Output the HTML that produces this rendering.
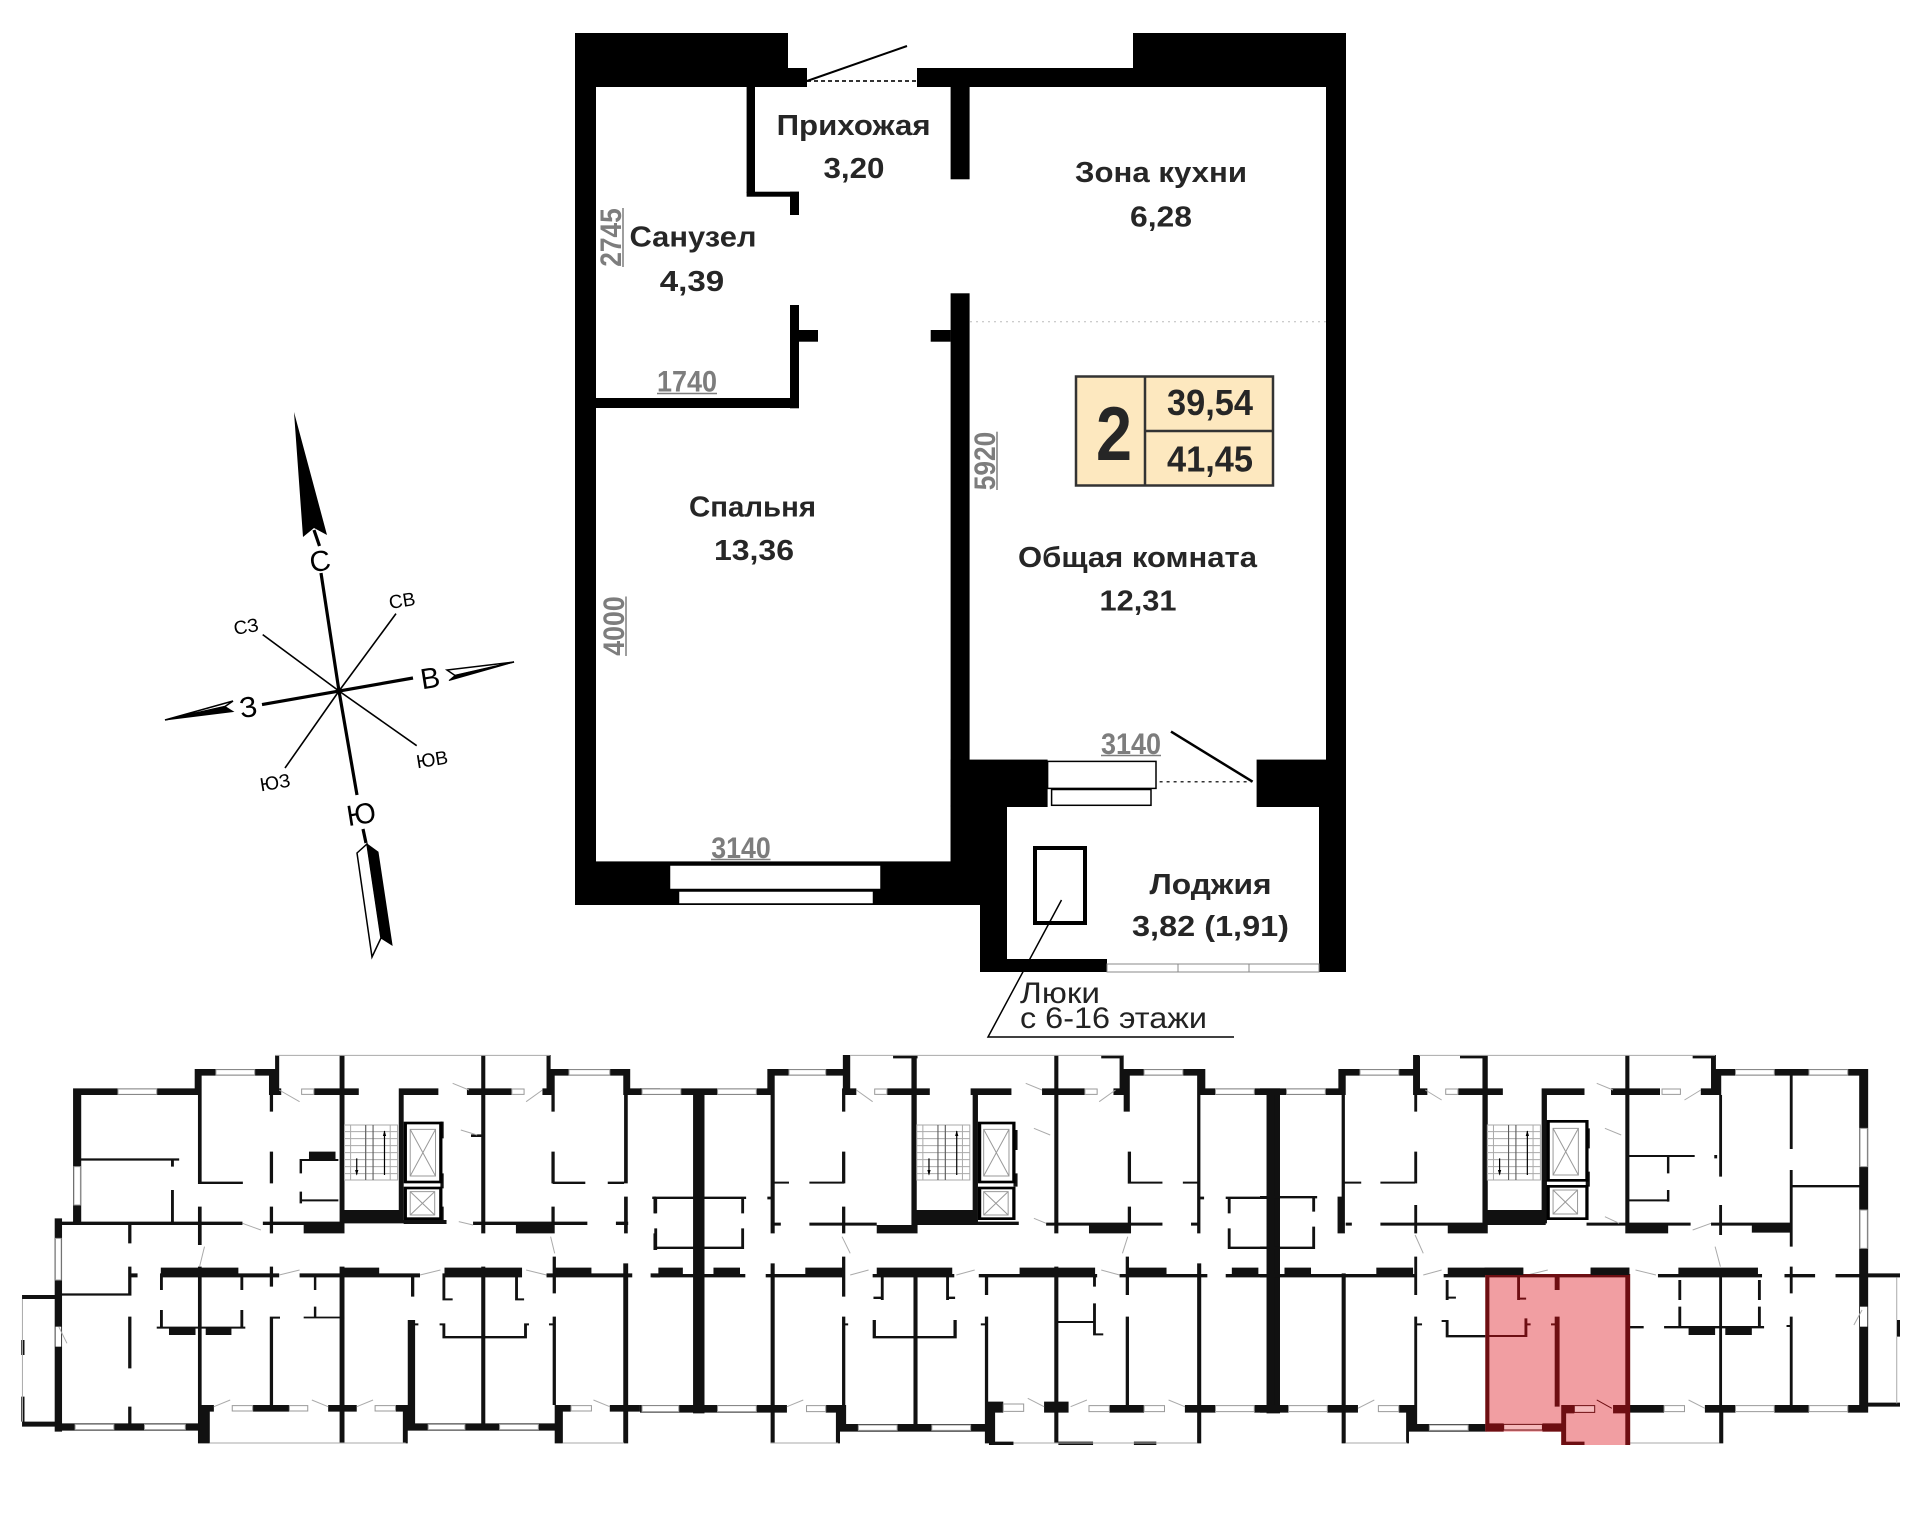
<!DOCTYPE html>
<html><head><meta charset="utf-8">
<style>
html,body{margin:0;padding:0;background:#fff;}
svg{display:block;}
.gl{fill:none;stroke:#aaa;stroke-width:1;vector-effect:non-scaling-stroke}
.wn{fill:#fff;stroke:#999;stroke-width:1;vector-effect:non-scaling-stroke}
.ef{fill:none;stroke:#000;stroke-width:8}
.ei{fill:none;stroke:#999;stroke-width:1;vector-effect:non-scaling-stroke}
.rl{font-family:"Liberation Sans",sans-serif;font-weight:bold;fill:#262626;font-size:29px}
.dm{font-family:"Liberation Sans",sans-serif;font-weight:bold;fill:#7d7d7d;font-size:30px}
.cp{font-family:"Liberation Sans",sans-serif;fill:#000}
</style></head>
<body>
<svg width="1920" height="1527" viewBox="0 0 1920 1527" xmlns="http://www.w3.org/2000/svg">
<defs>
<g id="st">
<rect x="0" y="0" width="130" height="165" class="gl"/>
<path class="gl" d="M15 0V165M52 0V165M70 0V165M112 0V165M0 20H130M0 41H130M0 62H130M0 83H130M0 104H130M0 125H130M0 146H130"/>
<path d="M52 0V165M70 0V165" stroke="#555" stroke-width="1" vector-effect="non-scaling-stroke"/>
<path d="M30 100V148M98 18V150" stroke="#000" stroke-width="1.2" vector-effect="non-scaling-stroke"/>
<path d="M26 135L34 135L30 152Z M94 33L102 33L98 16Z" fill="#000"/>
</g>
</defs>

<!-- ================= TOP APARTMENT ================= -->
<g fill="#000">
<rect x="575" y="33" width="213" height="54"/>
<rect x="787" y="68" width="20" height="19"/>
<rect x="917" y="68" width="217" height="19"/>
<rect x="1133" y="33" width="213" height="54"/>
<rect x="575" y="33" width="21" height="872"/>
<rect x="1326" y="33" width="20" height="730"/>
<rect x="746.6" y="86" width="8.4" height="107"/>
<rect x="746.6" y="191.7" width="52.4" height="5"/>
<rect x="790" y="191.7" width="9" height="23.3"/>
<rect x="950.6" y="86" width="19" height="93.3"/>
<rect x="950.6" y="293.3" width="19" height="570"/>
<rect x="930.7" y="330" width="20" height="11.7"/>
<rect x="790" y="305" width="9" height="103.3"/>
<rect x="799" y="330" width="19" height="11.7"/>
<rect x="596" y="398" width="203" height="10"/>
<rect x="575" y="861.4" width="407" height="43.6"/>
<rect x="950.6" y="759.6" width="97" height="47.4"/>
<rect x="950.6" y="805" width="56.4" height="100"/>
<rect x="980" y="805" width="27" height="167"/>
<rect x="1256.6" y="759.6" width="89.4" height="47.4"/>
<rect x="1319" y="805" width="27" height="167"/>
<rect x="980" y="959" width="127" height="13"/>
</g>
<!-- windows -->
<rect x="669.5" y="865" width="211.5" height="24.5" fill="#fff" stroke="#000" stroke-width="1.5"/>
<rect x="678.5" y="891" width="195" height="13" fill="#fff" stroke="#000" stroke-width="1.5"/>
<rect x="1047.6" y="761.4" width="108.4" height="27" fill="#fff" stroke="#000" stroke-width="1.5"/>
<rect x="1051.6" y="789.5" width="99.4" height="15.8" fill="#fff" stroke="#000" stroke-width="1.5"/>
<rect x="1107" y="964" width="212" height="8" fill="#fff" stroke="#888" stroke-width="1"/>
<path d="M1178 964V972M1249 964V972" stroke="#888" stroke-width="1"/>
<!-- doors -->
<path d="M807 81H917" stroke="#333" stroke-width="2" stroke-dasharray="4,3"/>
<path d="M807 81L907 46" stroke="#000" stroke-width="2"/>
<path d="M1159.6 781.7H1251.6" stroke="#333" stroke-width="1.5" stroke-dasharray="3,4"/>
<path d="M1171 731.6L1252.6 781.7" stroke="#000" stroke-width="2.5"/>
<path d="M970 321.7H1326" stroke="#bbb" stroke-width="1" stroke-dasharray="2,4"/>
<!-- hatch & leader -->
<rect x="1035" y="848" width="50" height="75" fill="none" stroke="#000" stroke-width="4"/>
<path d="M1061.5 900L988 1037H1234" fill="none" stroke="#000" stroke-width="1.5"/>

<!-- area box -->
<rect x="1076" y="376.5" width="197" height="109" fill="#fde8bf" stroke="#333" stroke-width="2.5"/>
<path d="M1145 376.5V485.5M1145 431H1273" stroke="#333" stroke-width="2.5"/>
<text x="1114" y="460" text-anchor="middle" font-family="Liberation Sans, sans-serif" font-weight="bold" font-size="76" fill="#262626" textLength="36" lengthAdjust="spacingAndGlyphs">2</text>
<text x="1210" y="415" text-anchor="middle" font-family="Liberation Sans, sans-serif" font-weight="bold" font-size="36" fill="#262626" textLength="86" lengthAdjust="spacingAndGlyphs">39,54</text>
<text x="1210" y="471.7" text-anchor="middle" font-family="Liberation Sans, sans-serif" font-weight="bold" font-size="36" fill="#262626" textLength="86" lengthAdjust="spacingAndGlyphs">41,45</text>

<!-- room labels -->
<text class="rl" x="853.6" y="135" text-anchor="middle" textLength="154" lengthAdjust="spacingAndGlyphs">Прихожая</text>
<text class="rl" x="854" y="178" text-anchor="middle" textLength="61" lengthAdjust="spacingAndGlyphs">3,20</text>
<text class="rl" x="1161" y="182" text-anchor="middle" textLength="172" lengthAdjust="spacingAndGlyphs">Зона кухни</text>
<text class="rl" x="1161" y="226.7" text-anchor="middle" textLength="62" lengthAdjust="spacingAndGlyphs">6,28</text>
<text class="rl" x="693" y="246.7" text-anchor="middle" textLength="127" lengthAdjust="spacingAndGlyphs">Санузел</text>
<text class="rl" x="692" y="291" text-anchor="middle" textLength="64.5" lengthAdjust="spacingAndGlyphs">4,39</text>
<text class="rl" x="752.5" y="516.7" text-anchor="middle" textLength="127" lengthAdjust="spacingAndGlyphs">Спальня</text>
<text class="rl" x="754" y="560" text-anchor="middle" textLength="80" lengthAdjust="spacingAndGlyphs">13,36</text>
<text class="rl" x="1137.5" y="567" text-anchor="middle" textLength="239" lengthAdjust="spacingAndGlyphs">Общая комната</text>
<text class="rl" x="1138" y="610.5" text-anchor="middle" textLength="77" lengthAdjust="spacingAndGlyphs">12,31</text>
<text class="rl" x="1210.5" y="894" text-anchor="middle" textLength="122" lengthAdjust="spacingAndGlyphs">Лоджия</text>
<text class="rl" x="1210.5" y="936" text-anchor="middle" textLength="157" lengthAdjust="spacingAndGlyphs">3,82 (1,91)</text>

<!-- dimensions -->
<text class="dm" x="687" y="391.7" text-anchor="middle" textLength="60" lengthAdjust="spacingAndGlyphs">1740</text>
<path d="M657 393.5H717" stroke="#7d7d7d" stroke-width="1.5"/>
<text class="dm" x="741" y="858" text-anchor="middle" textLength="59.5" lengthAdjust="spacingAndGlyphs">3140</text>
<path d="M711 859.5H770.5" stroke="#7d7d7d" stroke-width="1.5"/>
<text class="dm" x="1131" y="754" text-anchor="middle" textLength="60" lengthAdjust="spacingAndGlyphs">3140</text>
<path d="M1101 755.5H1161" stroke="#7d7d7d" stroke-width="1.5"/>
<text class="dm" transform="translate(621,237.5) rotate(-90)" text-anchor="middle" textLength="58.5" lengthAdjust="spacingAndGlyphs">2745</text>
<path d="M623 208V267" stroke="#7d7d7d" stroke-width="1.5"/>
<text class="dm" transform="translate(624,626) rotate(-90)" text-anchor="middle" textLength="59.5" lengthAdjust="spacingAndGlyphs">4000</text>
<path d="M626 596.5V656" stroke="#7d7d7d" stroke-width="1.5"/>
<text class="dm" transform="translate(995,461) rotate(-90)" text-anchor="middle" textLength="58.5" lengthAdjust="spacingAndGlyphs">5920</text>
<path d="M997 431.7V490" stroke="#7d7d7d" stroke-width="1.5"/>

<!-- hatch note -->
<text x="1020" y="1003" font-family="Liberation Sans, sans-serif" font-size="30" fill="#222" textLength="80" lengthAdjust="spacingAndGlyphs">Люки</text>
<text x="1020" y="1028" font-family="Liberation Sans, sans-serif" font-size="30" fill="#222" textLength="187" lengthAdjust="spacingAndGlyphs">с 6-16 этажи</text>

<!-- ================= COMPASS ================= -->
<g stroke="#000" fill="none">
<path d="M314 530L319.5 546M321 573L339 691L357 795M363 829L366 843" stroke-width="3.2"/>
<path d="M262 704.6L413 678" stroke-width="3.2"/>
<path d="M339 691L396 613.6M339 691L262.7 634.6M339 691L416.7 745.7M339 691L285 768" stroke-width="1.6"/>
</g>
<polygon points="294,412 303,537 314,528 327,535" fill="#000"/>
<polygon points="357,853 367,844 381,938 372,957" fill="#fff" stroke="#000" stroke-width="1.5"/>
<polygon points="367,844 378,852 392,945 381,938" fill="#000" stroke="#000" stroke-width="1"/>
<polygon points="447,670 455,675.5 514,662" fill="#fff" stroke="#000" stroke-width="1.5"/>
<polygon points="455,675.5 449,680.5 514,662" fill="#000" stroke="#000" stroke-width="1"/>
<polygon points="233,701 225,706.5 165,720" fill="#fff" stroke="#000" stroke-width="1.5"/>
<polygon points="225,706.5 233,711.5 165,720" fill="#000" stroke="#000" stroke-width="1"/>
<g class="cp">
<text x="320" y="571" font-size="29" text-anchor="middle" transform="rotate(-9 320 561)">С</text>
<text x="361" y="824" font-size="29" text-anchor="middle" transform="rotate(-9 361 813)">Ю</text>
<text x="430" y="688" font-size="29" text-anchor="middle" transform="rotate(-9 430 677)">В</text>
<text x="248" y="717" font-size="29" text-anchor="middle" transform="rotate(-9 248 706)">З</text>
<text x="402" y="607" font-size="19" text-anchor="middle" transform="rotate(-9 402 600)">СВ</text>
<text x="246" y="633" font-size="19" text-anchor="middle" transform="rotate(-9 246 626)">СЗ</text>
<text x="432" y="766" font-size="19" text-anchor="middle" transform="rotate(-9 432 759)">ЮВ</text>
<text x="275" y="789" font-size="19" text-anchor="middle" transform="rotate(-9 275 782)">ЮЗ</text>
</g>

<!-- ================= FLOOR PLAN (left) ================= -->
<g transform="translate(20,1040) scale(0.408163,0.333333)">
<path fill="#111" d="M130 145h20v410h-20z M130 145h305v20h-305z M428 87h17v78h-17z M436 165h9v265h-9z M436 425h110v7h-110z M428 87h197v20h-197z M610 87h18v78h-18z M612 165h8v50h-8z M612 335h8v95h-8z M612 500h8v80h-8z M150 355h240v7h-240z M370 355h7v25h-7z M370 450h7v100h-7z M708 335h65v22h-65z M685 357h95v6h-95z M685 357h6v43h-6z M685 455h6v35h-6z M690 478h90v6h-90z M783 45h12v505h-12z M928 145h12v405h-12z M783 510h157v40h-157z M695 545h100v35h-100z M1030 245h8v50h-8z M1030 400h8v45h-8z M1030 500h8v45h-8z M1130 45h10v535h-10z M1105 283h30v8h-30z M610 145h30v20h-30z M720 145h110v20h-110z M930 145h95v20h-95z M1095 145h110v20h-110z M1280 145h20v20h-20z M1290 45h10v120h-10z M625 45h10v100h-10z M1290 87h20v78h-20z M1302 165h8v50h-8z M1302 335h8v95h-8z M1302 500h8v80h-8z M1290 87h205v20h-205z M1478 87h17v78h-17z M1480 165h9v265h-9z M1480 470h9v110h-9z M1495 145h73v20h-73z M1305 425h80v7h-80z M1440 425h40v7h-40z M1552 470h6v50h-6z M1552 580h6v50h-6z M85 535h18v640h-18z M85 545h460v10h-460z M595 545h190v10h-190z M940 540h105v12h-105z M1110 545h280v10h-280z M1215 550h95v30h-95z M1460 545h30v10h-30z M265 555h8v55h-8z M436 500h9v115h-9z M436 680h9v530h-9z M265 680h8v85h-8z M103 760h170v7h-170z M265 830h8v155h-8z M265 1100h8v60h-8z M270 700h18v12h-18z M345 683h190v29h-190z M535 700h100v12h-100z M685 700h100v12h-100z M785 683h95v29h-95z M880 700h100v12h-100z M1040 683h190v29h-190z M1290 700h25v12h-25z M1310 683h90v29h-90z M1400 700h100v12h-100z M1545 700h23v12h-23z M612 680h8v60h-8z M612 830h8v270h-8z M612 830h25v6h-25z M720 710h6v40h-6z M720 800h6v35h-6z M695 830h88v5h-88z M783 680h12v530h-12z M958 700h8v70h-8z M950 840h18v330h-18z M958 850h18v6h-18z M1130 680h10v470h-10z M1305 650h8v110h-8z M1305 830h8v265h-8z M1296 850h12v6h-12z M1478 670h12v540h-12z M343 700h7v50h-7z M343 810h7v55h-7z M335 860h217v6h-217z M365 866h65v19h-65z M455 866h63v19h-63z M540 700h7v50h-7z M540 810h7v55h-7z M1035 700h7v80h-7z M1035 775h25v6h-25z M1028 850h14v6h-14z M1035 850h7v45h-7z M1035 888h205v7h-205z M1213 700h7v80h-7z M1213 775h22v6h-22z M1235 850h7v45h-7z M1235 850h12v6h-12z M85 1150h360v22h-360z M445 1095h20v115h-20z M445 1095h30v20h-30z M570 1095h90v20h-90z M755 1095h70v20h-70z M920 1095h30v20h-30z M938 1095h12v115h-12z M950 1150h380v22h-380z M1310 1095h20v115h-20z M1310 1095h40v20h-40z M1445 1095h75v20h-75z M1478 1095h12v115h-12z M5 765h80v12h-80z M5 1145h80v15h-80z M3 900h8v45h-8z M3 1070h8v75h-8z"/>
<path class="wn" d="M240 147h95v16h-95z M480 89h95v16h-95z M1345 89h100v16h-100z M1525 147h43v16h-43z M132 380h16v115h-16z M87 595h14v125h-14z M690 147h30v16h-30z M1205 147h30v16h-30z M135 1153h95v16h-95z M305 1153h100v16h-100z M520 1097h50v16h-50z M660 1097h45v16h-45z M870 1097h50v16h-50z M1000 1153h90v16h-90z M1175 1153h95v16h-95z M1350 1097h50v16h-50z M1520 1097h48v16h-48z"/>
<rect x="87" y="860" width="14" height="60" fill="#fff"/>
<path class="gl" d="M625 46H1298 M465 1209H945 M1330 1209H1480 M6 777V1145 M545 550L590 570 M635 150L685 185 M1240 185L1280 150 M1300 590L1310 640 M440 680L452 620 M95 860L115 910 M635 705L685 690 M980 705L1030 690 M1240 690L1290 705 M475 1100L515 1080 M715 1080L755 1100 M825 1100L865 1080 M1405 1080L1445 1100 M1060 130L1100 150 M1080 270L1120 285 M1075 545L1110 555"/>
<use href="#st" transform="translate(795,255)"/>
<rect class="ef" x="944" y="249" width="87" height="177"/>
<rect class="ei" x="956" y="268" width="62" height="140"/>
<path class="ei" d="M956 268L1018 408M1018 268L956 408"/>
<rect class="ef" x="944" y="444" width="87" height="92"/>
<rect class="ei" x="956" y="455" width="60" height="70"/>
<path class="ei" d="M956 455L1016 525M1016 455L956 525"/>
</g>

<!-- ================= FLOOR PLAN (middle) ================= -->
<g transform="translate(640,1040) scale(0.408163,0.333333)">
<path fill="#111" d="M0 145h320v20h-320z M130 145h28v975h-28z M312 87h18v78h-18z M320 165h10v415h-10z M312 87h203v20h-203z M497 45h18v120h-18z M495 165h8v50h-8z M495 335h8v95h-8z M495 500h8v80h-8z M330 425h35v6h-35z M415 425h85v6h-85z M620 45h60v10h-60z M665 45h13v510h-13z M1015 45h10v535h-10z M1130 45h55v10h-55z M1175 45h10v120h-10z M495 145h35v20h-35z M605 145h105v20h-105z M810 145h100v20h-100z M985 145h105v20h-105z M1160 145h35v20h-35z M815 145h13v400h-13z M915 270h10v60h-10z M915 400h10v40h-10z M668 510h160v45h-160z M580 555h100v25h-100z M320 548h25v9h-25z M415 548h165v9h-165z M828 545h100v10h-100z M995 548h105v9h-105z M1100 548h180v9h-180z M1100 555h95v25h-95z M1350 548h15v9h-15z M1185 87h15v128h-15z M1195 335h8v95h-8z M1195 500h8v80h-8z M1195 425h85v6h-85z M1330 425h35v6h-35z M1185 87h200v20h-200z M1365 87h20v78h-20z M1365 165h8v415h-8z M1365 145h203v20h-203z M1535 145h33v975h-33z M30 470h230v7h-230z M35 470h7v50h-7z M35 565h7v65h-7z M35 620h220v7h-220z M248 470h7v50h-7z M248 565h7v60h-7z M45 683h60v25h-60z M180 683h65v25h-65z M312 470h10v8h-10z M1435 470h133v7h-133z M1440 470h7v50h-7z M1440 565h7v60h-7z M1440 620h128v7h-128z M1450 683h65v25h-65z M1370 470h12v8h-12z M30 702h228v10h-228z M308 702h192v10h-192z M405 683h90v29h-90z M570 702h200v10h-200z M580 683h185v29h-185z M830 702h290v10h-290z M930 683h185v29h-185z M1175 702h215v10h-215z M1195 683h95v29h-95z M1435 702h133v10h-133z M320 670h10v540h-10z M495 650h8v120h-8z M495 830h8v320h-8z M500 850h10v6h-10z M670 685h10v490h-10z M845 710h8v55h-8z M845 830h8v270h-8z M835 850h18v6h-18z M1015 680h10v530h-10z M1190 650h8v115h-8z M1190 830h8v270h-8z M1365 670h10v540h-10z M590 710h7v70h-7z M572 770h25v7h-25z M570 840h8v55h-8z M570 888h205v7h-205z M750 710h7v70h-7z M750 770h22v7h-22z M768 840h8v55h-8z M1025 843h90v6h-90z M1110 790h7v95h-7z M1110 880h25v6h-25z M1110 710h7v30h-7z M0 1095h320v23h-320z M320 1095h40v23h-40z M455 1095h45v23h-45z M485 1095h20v80h-20z M485 1152h370v23h-370z M845 1085h25v125h-25z M850 1085h40v33h-40z M990 1085h60v33h-60z M1150 1095h85v23h-85z M1335 1095h75v23h-75z M1505 1095h63v23h-63z M480 1118h10v92h-10z M855 1205h60v10h-60z M1025 1205h85v10h-85z M1210 1205h55v10h-55z M1015 1118h10v92h-10z M1365 1118h10v92h-10z"/>
<path class="wn" d="M5 147h95v16h-95z M190 147h95v16h-95z M365 89h90v16h-90z M575 147h30v16h-30z M1090 147h30v16h-30z M1235 89h95v16h-95z M1410 147h95v16h-95z M5 1097h90v18h-90z M190 1097h95v18h-95z M408 1097h47v18h-47z M535 1155h95v16h-95z M715 1155h95v16h-95z M890 1092h50v22h-50z M1100 1097h50v18h-50z M1235 1097h50v18h-50z M1410 1097h95v18h-95z"/>
<path class="gl" d="M515 46H1185 M320 1209H485 M915 1209H1365 M530 150L570 185 M1125 185L1165 150 M495 590L515 640 M1195 590L1182 640 M515 705L560 690 M775 705L820 690 M1130 690L1175 705 M360 1100L400 1080 M950 1075L990 1100 M1055 1100L1095 1080 M1295 1080L1335 1100 M945 130L985 150 M965 265L1005 285 M965 535L995 550"/>
<use href="#st" transform="translate(678,255)"/>
<rect class="ef" x="832" y="249" width="84" height="177"/>
<rect class="ei" x="842" y="268" width="62" height="140"/>
<path class="ei" d="M842 268L904 408M904 268L842 408"/>
<rect class="ef" x="832" y="444" width="84" height="92"/>
<rect class="ei" x="842" y="455" width="60" height="70"/>
<path class="ei" d="M842 455L902 525M902 455L842 525"/>
</g>

<!-- ================= FLOOR PLAN (right) ================= -->
<g transform="translate(1260,1040) scale(0.408163,0.333333)">
<path fill="#111" d="M0 145h200v20h-200z M18 145h17v973h-17z M192 87h18v78h-18z M200 165h8v415h-8z M192 87h198v20h-198z M375 45h17v120h-17z M378 165h7v50h-7z M378 335h7v95h-7z M378 495h7v85h-7z M208 425h40v6h-40z M295 425h85v6h-85z M190 470h12v110h-12z M0 468h140v7h-140z M128 470h7v45h-7z M128 560h7v65h-7z M0 620h135v7h-135z M60 683h65v28h-65z M285 683h90v28h-90z M490 45h68v10h-68z M545 45h13v505h-13z M690 145h13v405h-13z M895 45h10v535h-10z M1060 45h57v10h-57z M1105 45h12v120h-12z M378 145h32v20h-32z M485 145h110v20h-110z M690 145h105v20h-105z M860 145h120v20h-120z M1080 145h45v20h-45z M798 265h10v60h-10z M798 395h10v45h-10z M548 510h152v45h-152z M460 555h98v25h-98z M905 345h160v6h-160z M997 350h6v50h-6z M997 450h6v35h-6z M905 478h98v6h-98z M1113 345h7v10h-7z M1125 165h7v245h-7z M1125 495h7v90h-7z M1105 87h25v78h-25z M1105 87h380v20h-380z M1298 107h7v220h-7z M1298 390h7v50h-7z M1298 435h172v7h-172z M1298 442h7v178h-7z M1298 680h7v80h-7z M1468 87h22v1013h-22z M210 548h15v9h-15z M295 548h253v9h-253z M800 548h255v9h-255z M900 555h100v25h-100z M1105 548h195v9h-195z M1205 555h95v23h-95z M0 702h385v10h-385z M450 702h200v10h-200z M460 683h185v28h-185z M710 702h195v10h-195z M810 683h95v28h-95z M975 702h255v10h-255z M1025 683h195v28h-195z M1285 702h75v10h-75z M1410 702h158v10h-158z M200 700h10v510h-10z M378 650h7v115h-7z M378 830h7v340h-7z M385 850h12v6h-12z M455 720h7v60h-7z M455 770h25v6h-25z M445 840h15v6h-15z M455 840h7v52h-7z M455 885h100v7h-100z M1025 720h7v60h-7z M1025 800h7v65h-7z M905 858h35v7h-35z M990 858h245v7h-245z M1050 865h65v20h-65z M1140 865h65v20h-65z M1125 690h7v520h-7z M1220 720h7v60h-7z M1220 800h7v65h-7z M1298 830h7v265h-7z M1290 855h14v6h-14z M1490 700h78v12h-78z M1560 840h8v50h-8z M1487 1088h81v12h-81z M0 1095h70v23h-70z M165 1095h75v23h-75z M340 1095h45v23h-45z M360 1095h25v80h-25z M360 1152h195v23h-195z M200 1118h10v92h-10z M358 1118h7v92h-7z M905 1095h85v23h-85z M1090 1095h75v23h-75z M1260 1095h85v23h-85z M1440 1095h50v23h-50z M1125 1118h10v92h-10z"/>
<path class="wn" d="M65 147h95v16h-95z M245 89h95v16h-95z M455 147h30v16h-30z M985 147h45v16h-45z M1165 89h95v16h-95z M1345 89h95v16h-95z M1470 265h18v115h-18z M1470 510h18v115h-18z M70 1097h95v18h-95z M290 1097h50v18h-50z M415 1155h95v16h-95z M990 1097h50v18h-50z M1165 1097h95v18h-95z M1345 1097h95v18h-95z"/>
<rect x="1470" y="800" width="18" height="60" fill="#fff"/>
<path class="gl" d="M390 46H1115 M210 1209H360 M905 1209H1125 M1560 712V840 M1560 890V1090 M405 150L445 180 M1040 180L1080 150 M380 585L400 640 M1115 620L1128 680 M400 705L445 690 M655 705L705 690 M920 690L970 705 M240 1105L280 1080 M1050 1080L1090 1105 M825 130L865 150 M845 265L885 285 M845 530L880 550 M1060 570L1105 550 M1455 855L1475 810"/>
<use href="#st" transform="translate(557,255)"/>
<rect class="ef" x="706" y="244" width="95" height="177"/>
<rect class="ei" x="718" y="265" width="62" height="140"/>
<path class="ei" d="M718 265L780 405M780 265L718 405"/>
<rect class="ef" x="706" y="439" width="95" height="97"/>
<rect class="ei" x="718" y="450" width="60" height="72"/>
<path class="ei" d="M718 450L778 522M778 450L718 522"/>
<!-- highlighted unit -->
<polygon points="552,705 905,705 905,1215 738,1215 738,1175 552,1175" fill="#f19ea2"/>
<path fill="#6d0e12" d="M552 702h355v10h-355z M552 705h10v470h-10z M895 705h12v510h-12z M552 1150h45v25h-45z M692 1150h46v25h-46z M738 1095h12v120h-12z M738 1095h32v25h-32z M865 1095h40v25h-40z M740 1205h55v10h-55z M722 705h12v45h-12z M722 830h12v270h-12z M630 710h7v70h-7z M630 773h22v6h-22z M555 885h100v6h-100z M648 835h7v56h-7z M655 850h8v6h-8z M713 850h10v6h-10z"/>
<path d="M597 1153h95v17h-95z M770 1097h50v20h-50z" fill="#f5b9bb" stroke="#6d0e12" stroke-width="1" vector-effect="non-scaling-stroke"/>
<path d="M825 1080L862 1105" stroke="#6d0e12" stroke-width="1" vector-effect="non-scaling-stroke"/>
<path fill="#111" d="M550 683h95v22h-95z M810 683h95v22h-95z"/>
</g>
</svg>
</body></html>
